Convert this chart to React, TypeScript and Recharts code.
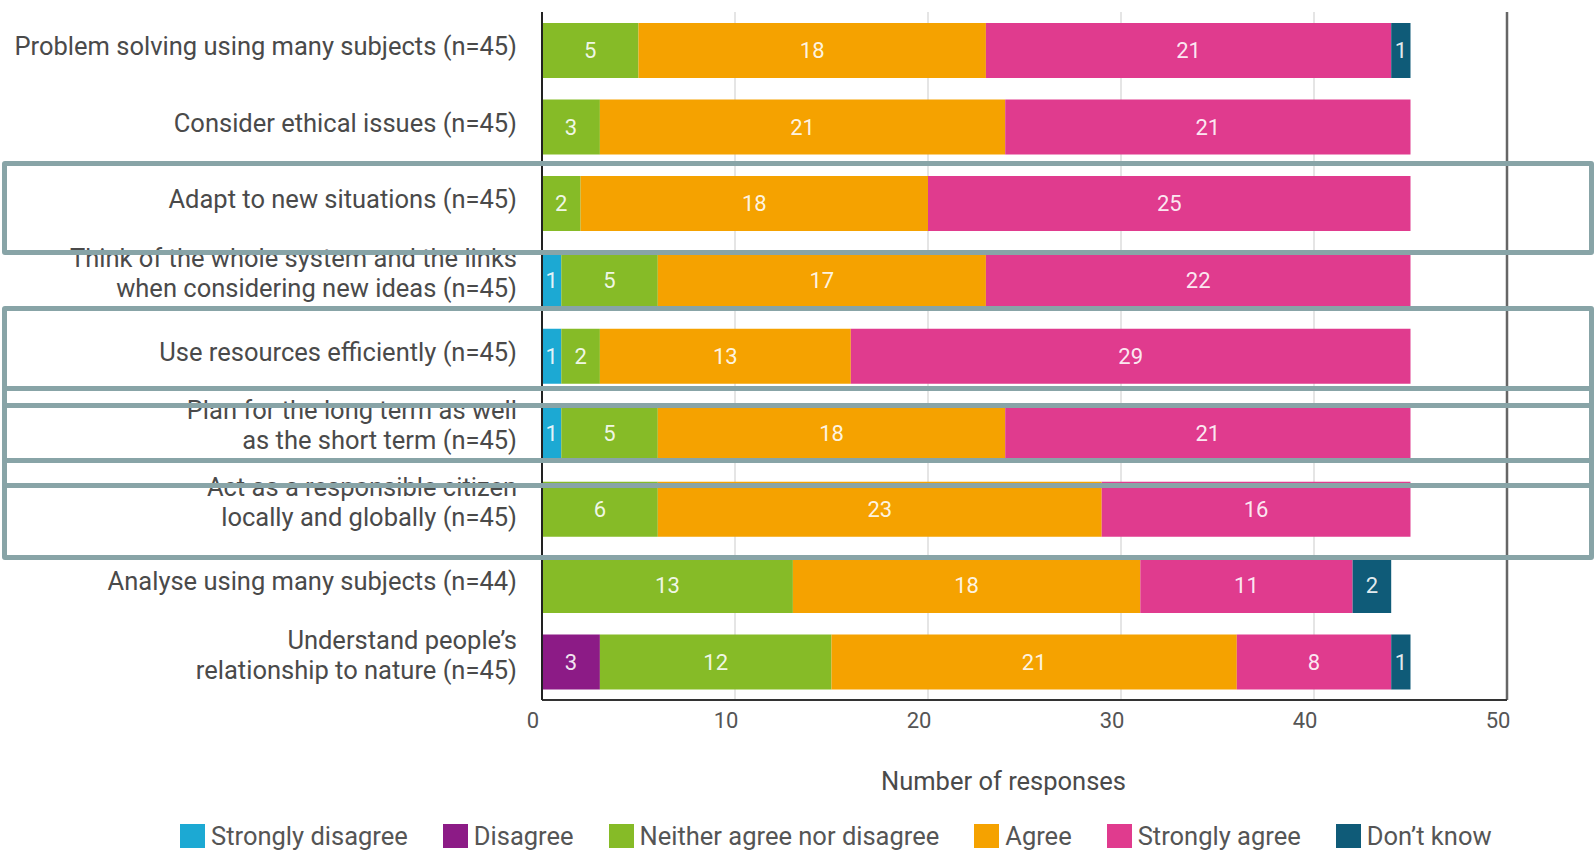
import React from 'react';
import {
  BarChart,
  Bar,
  XAxis,
  YAxis,
  CartesianGrid,
  Legend,
  LabelList,
  ReferenceLine,
} from 'recharts';

const FONT = 'Roboto, "Liberation Sans", sans-serif';

const categories = [
  'Problem solving using many subjects (n=45)',
  'Consider ethical issues (n=45)',
  'Adapt to new situations (n=45)',
  'Think of the whole system and the links\nwhen considering new ideas (n=45)',
  'Use resources efficiently (n=45)',
  'Plan for the long term as well\nas the short term (n=45)',
  'Act as a responsible citizen\nlocally and globally (n=45)',
  'Analyse using many subjects (n=44)',
  'Understand people\u2019s\nrelationship to nature (n=45)',
];

const stronglyDisagree = [0, 0, 0, 1, 1, 1, 0, 0, 0];
const disagree = [0, 0, 0, 0, 0, 0, 0, 0, 3];
const neither = [5, 3, 2, 5, 2, 5, 6, 13, 12];
const agree = [18, 21, 18, 17, 13, 18, 23, 18, 21];
const stronglyAgree = [21, 21, 25, 22, 29, 21, 16, 11, 8];
const dontKnow = [1, 0, 0, 0, 0, 0, 0, 2, 1];

const xTicks = [0, 10, 20, 30, 40, 50];

const series = [
  { key: 'sd', name: 'Strongly disagree', color: '#1ca9d3' },
  { key: 'd', name: 'Disagree', color: '#8c1b86' },
  { key: 'n', name: 'Neither agree nor disagree', color: '#86bb27' },
  { key: 'a', name: 'Agree', color: '#f5a200' },
  { key: 'sa', name: 'Strongly agree', color: '#e03b8e' },
  { key: 'dk', name: 'Don\u2019t know', color: '#0f5b78' },
];

const data = categories.map((name, i) => ({
  name,
  sd: stronglyDisagree[i],
  d: disagree[i],
  n: neither[i],
  a: agree[i],
  sa: stronglyAgree[i],
  dk: dontKnow[i],
}));

// highlight frames drawn over the figure
const frames = [
  { top: 160.5, height: 94 },
  { top: 305.5, height: 102 },
  { top: 385.5, height: 102 },
  { top: 457.5, height: 102 },
];

const YTick = ({ x, y, payload }: any) => {
  const lines = String(payload.value).split('\n');
  const first = lines.length === 1 ? 5 : -13;
  return (
    <text x={x} y={y} textAnchor="end" fill="#4a4a4a" fontSize={25.5} fontFamily={FONT}>
      {lines.map((l, i) => (
        <tspan key={i} x={x} y={y + first + i * 30}>
          {l}
        </tspan>
      ))}
    </text>
  );
};

const LegendContent = () => (
  <div
    style={{
      height: 44,
      display: 'flex',
      alignItems: 'center',
      paddingLeft: 180,
      fontFamily: FONT,
      fontSize: 25.5,
      color: '#555',
      whiteSpace: 'nowrap',
    }}
  >
    {series.map((s) => (
      <div key={s.key} style={{ display: 'flex', alignItems: 'center', marginRight: 35 }}>
        <span style={{ width: 25, height: 24, background: s.color, marginRight: 6, display: 'inline-block' }} />
        <span>{s.name}</span>
      </div>
    ))}
  </div>
);

export default function App() {
  return (
    <div style={{ position: 'absolute', left: 0, top: 0, width: 1595, height: 858, background: '#fff' }}>
      <BarChart
        width={1595}
        height={858}
        data={data}
        layout="vertical"
        margin={{ top: 12, right: 88, left: 0, bottom: 0 }}
        barSize={55}
      >
        <CartesianGrid horizontal={false} stroke="#dcdcdc" strokeWidth={1.5} />
        <XAxis
          type="number"
          domain={[0, 50]}
          ticks={xTicks}
          height={114}
          tickLine={false}
          tickSize={6}
          tickMargin={6}
          axisLine={{ stroke: '#333', strokeWidth: 2 }}
          tick={{ fill: '#555', fontSize: 22, fontFamily: FONT, dx: -9 }}
          label={{
            value: 'Number of responses',
            position: 'insideBottom',
            offset: 24,
            dx: -21,
            fill: '#4a4a4a',
            fontSize: 25.5,
            fontFamily: FONT,
          }}
        />
        <YAxis
          type="category"
          dataKey="name"
          width={542}
          tickLine={false}
          tickSize={0}
          tickMargin={25}
          axisLine={{ stroke: '#222', strokeWidth: 2 }}
          tick={<YTick />}
          interval={0}
        />
        <ReferenceLine x={50} stroke="#666" strokeWidth={2.5} />
        {series.map((s) => (
          <Bar key={s.key} dataKey={s.key} name={s.name} stackId="x" fill={s.color} isAnimationActive={false}>
            <LabelList
              dataKey={s.key}
              position="center"
              formatter={(v: any) => (v ? v : '')}
              fill="#fff"
              fillOpacity={0.9}
              fontSize={22}
              fontFamily={FONT}
            />
          </Bar>
        ))}
        <Legend verticalAlign="bottom" content={<LegendContent />} wrapperStyle={{ left: 0, width: 1595 }} />
      </BarChart>
      {frames.map((f, i) => (
        <div
          key={i}
          style={{
            position: 'absolute',
            left: 1.5,
            width: 1592,
            top: f.top,
            height: f.height,
            border: '5px solid #88a4a7',
            borderRadius: 3,
            boxSizing: 'border-box',
            pointerEvents: 'none',
          }}
        />
      ))}
    </div>
  );
}
